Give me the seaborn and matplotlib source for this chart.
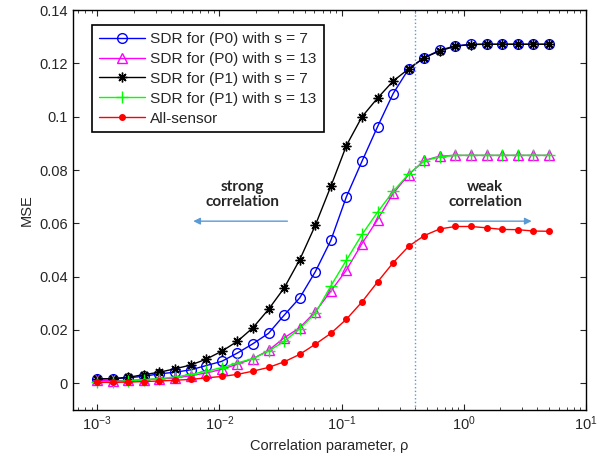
import matplotlib
matplotlib.use("Agg")
import matplotlib.pyplot as plt
import seaborn as sns
import numpy as np
from matplotlib.ticker import LogLocator, FuncFormatter

sns.set_style("ticks")
plt.rcParams['font.family'] = ['Liberation Sans', 'DejaVu Sans']
plt.rcParams['mathtext.fontset'] = 'custom'
plt.rcParams['mathtext.rm'] = 'Liberation Sans'
plt.rcParams['mathtext.it'] = 'Liberation Sans:italic'

# correlation parameter values (30 log-spaced points from 1e-3 to 5)
rho = [0.001, 0.00134, 0.0018, 0.00241, 0.00323, 0.00434, 0.00582, 0.0078,
       0.01047, 0.01404, 0.01883, 0.02526, 0.03389, 0.04546, 0.06098, 0.0818,
       0.10973, 0.1472, 0.19745, 0.26487, 0.3553, 0.4766, 0.63933, 0.85762,
       1.15044, 1.54323, 2.07015, 2.77697, 3.72511, 5.0]

p0_s7 = [0.0016, 0.0017, 0.0020, 0.0026, 0.0035, 0.0041, 0.0050, 0.0066, 0.0082, 0.0113,
         0.0148, 0.0187, 0.0255, 0.0320, 0.0418, 0.0536, 0.0700, 0.0833, 0.0963, 0.1087,
         0.1180, 0.1222, 0.1250, 0.1266, 0.1272, 0.1272, 0.1272, 0.1272, 0.1272, 0.1272]
p0_s13 = [0.0010, 0.0009, 0.0010, 0.0013, 0.0016, 0.0019, 0.0028, 0.0038, 0.0052, 0.0071,
          0.0092, 0.0123, 0.0170, 0.0208, 0.0268, 0.0345, 0.0425, 0.0524, 0.0614, 0.0712,
          0.0783, 0.0836, 0.0852, 0.0855, 0.0855, 0.0855, 0.0855, 0.0855, 0.0855, 0.0855]
p1_s7 = [0.0016, 0.0017, 0.0022, 0.0032, 0.0041, 0.0054, 0.0068, 0.0090, 0.0120, 0.0157,
         0.0208, 0.0277, 0.0357, 0.0463, 0.0592, 0.0739, 0.0892, 0.1000, 0.1070, 0.1134,
         0.1180, 0.1222, 0.1247, 0.1265, 0.1271, 0.1272, 0.1272, 0.1272, 0.1272, 0.1272]
p1_s13 = [0.0004, 0.0006, 0.0009, 0.0013, 0.0017, 0.0023, 0.0033, 0.0045, 0.0058, 0.0076,
          0.0092, 0.0120, 0.0157, 0.0204, 0.0262, 0.0365, 0.0462, 0.0558, 0.0642, 0.0720,
          0.0785, 0.0834, 0.0850, 0.0855, 0.0855, 0.0855, 0.0855, 0.0855, 0.0855, 0.0855]
all_sensor = [0.0003, 0.0003, 0.0004, 0.0006, 0.0008, 0.0011, 0.0014, 0.0020, 0.0025, 0.0033,
              0.0045, 0.0059, 0.0080, 0.0108, 0.0146, 0.0187, 0.0240, 0.0305, 0.0380, 0.0452,
              0.0514, 0.0554, 0.0579, 0.0588, 0.0588, 0.0583, 0.0577, 0.0576, 0.0571, 0.0570]

yticks = [0, 0.02, 0.04, 0.06, 0.08, 0.1, 0.12, 0.14]

fig = plt.figure(figsize=(6.02, 4.62), dpi=100)
ax = fig.add_axes([0.121, 0.113, 0.852, 0.865])

# series: (values, label, color, marker, marker kwargs)
series = [
    (p0_s7, "SDR for (P0) with s = 7", "#0000ff", "o", dict(markersize=7, markerfacecolor="none")),
    (p0_s13, "SDR for (P0) with s = 13", "#ff00ff", "^", dict(markersize=7.5, markerfacecolor="none")),
    (p1_s7, "SDR for (P1) with s = 7", "#000000", (8, 2, 0), dict(markersize=7)),
    (p1_s13, "SDR for (P1) with s = 13", "#00ff00", "+", dict(markersize=8)),
    (all_sensor, "All-sensor", "#ff0000", "o", dict(markersize=4)),
]
for vals, lab, col, mk, kw in series:
    sns.lineplot(x=rho, y=vals, ax=ax, color=col, marker=mk, label=lab,
                 linewidth=1.0, markeredgecolor=col, markeredgewidth=1.0, **kw)

# boundary between strong / weak correlation
ax.axvline(0.4, color="#5b9bd5", linestyle=":", linewidth=1.0)

ax.set_xscale("log")
ax.set_xlim(10 ** -3.2, 10)
ax.set_ylim(-0.01, 0.14)
ax.set_yticks(yticks)
ax.yaxis.set_major_formatter(FuncFormatter(lambda v, pos: "%g" % round(v, 2)))
ax.xaxis.set_major_locator(LogLocator(base=10, numticks=10))
ax.xaxis.set_minor_locator(LogLocator(base=10, subs=np.arange(2, 10), numticks=20))
ax.tick_params(which="both", direction="in", top=True, right=True, labelsize=10.5)
ax.tick_params(which="major", length=4)
ax.tick_params(which="minor", length=2)
for s in ax.spines.values():
    s.set_color("black")
    s.set_linewidth(1.0)

ax.set_xlabel("Correlation parameter, ρ", fontsize=10.5)
ax.set_ylabel("MSE", fontsize=10.5)

# annotations
txt_kw = dict(ha="center", va="center", fontsize=11, fontweight="bold",
              family=["Lato", "DejaVu Sans"], linespacing=1.1)
ax.text(0.0155, 0.0707, "strong\ncorrelation", **txt_kw)
ax.text(1.5, 0.0707, "weak\ncorrelation", **txt_kw)
arrow_kw = dict(arrowstyle="-|>", color="#5b9bd5", lw=1.0, mutation_scale=10)
ax.annotate("", xy=(0.0058, 0.0608), xytext=(0.038, 0.0608), arrowprops=arrow_kw)
ax.annotate("", xy=(3.8, 0.0608), xytext=(0.71, 0.0608), arrowprops=arrow_kw)

leg = ax.legend(loc="upper left", bbox_to_anchor=(0.037, 0.9625), borderaxespad=0,
                fontsize=11.1, frameon=True, fancybox=False, edgecolor="black",
                framealpha=1, handlelength=3.0, labelspacing=0.38, borderpad=0.45,
                handletextpad=0.35)
leg.get_frame().set_linewidth(1.2)

fig.savefig("out.png", dpi=100)
